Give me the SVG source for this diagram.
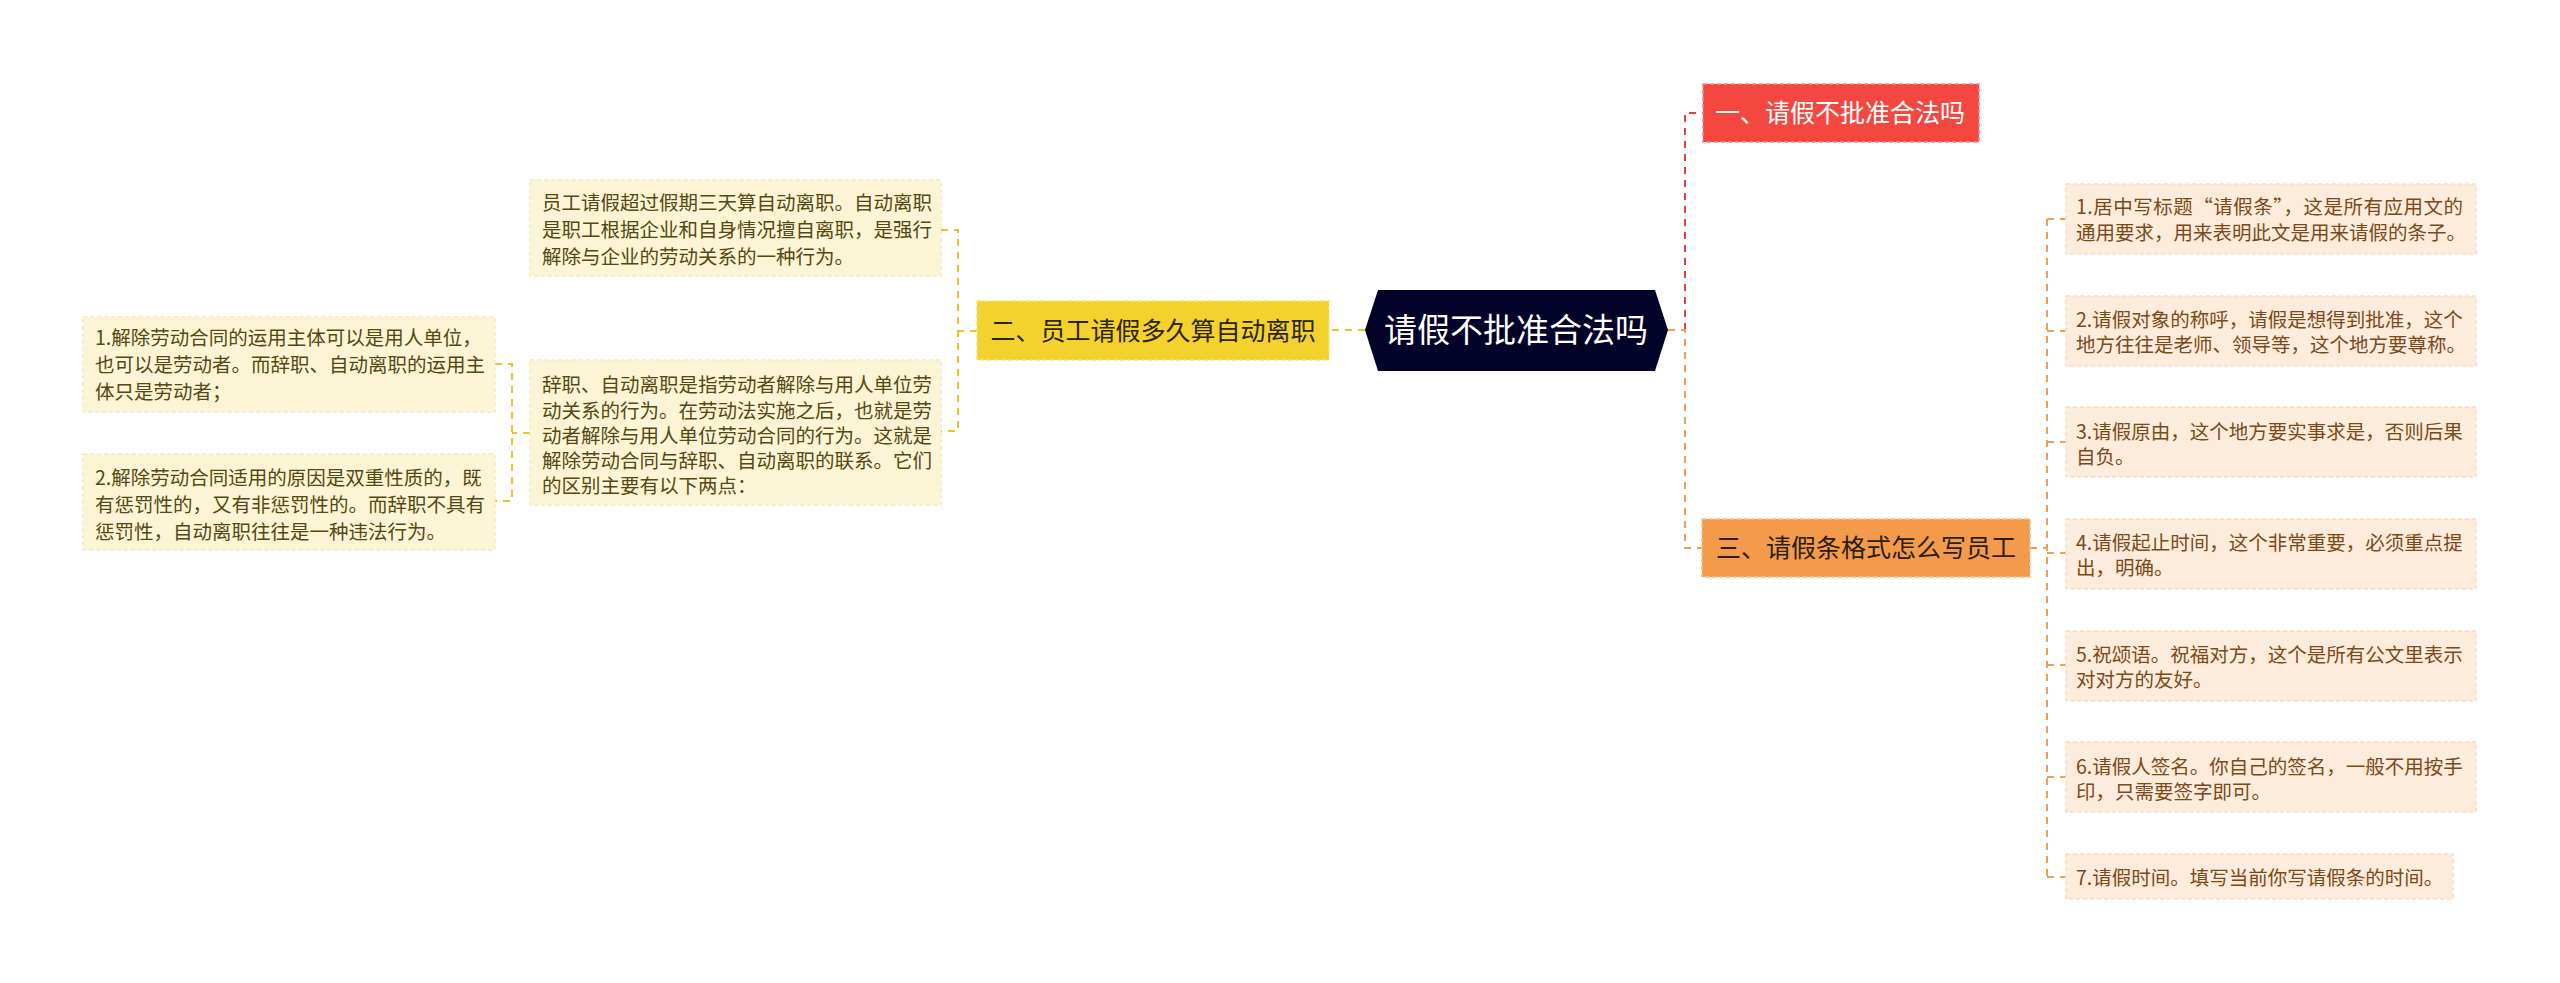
<svg xmlns="http://www.w3.org/2000/svg" width="2560" height="983" viewBox="0 0 2560 983">
<style>
text{font-family:"Noto Sans CJK SC","Noto Sans",sans-serif}
.conn{fill:none;stroke-width:2;stroke-dasharray:7 6}
.cy{stroke:#E5C52B}
.cr{stroke:#E2423B}
.co{stroke:#EE9E55}
.leafY{fill:#FBF5D5;stroke:#F3EAC0;stroke-width:1.5;stroke-dasharray:4 3}
.leafO{fill:#FDEBDC;stroke:#F8DCC6;stroke-width:1.5;stroke-dasharray:4 3}
.tY{font-size:19.5px;fill:#544813}
.tO{font-size:19.5px;fill:#7C4A18}
.title{font-size:25px;text-anchor:middle}
</style>
<rect width="2560" height="983" fill="#FFFFFF"/>
<g id="connectors">
<path class="conn cy" d="M1365,330 H1329"/>
<path class="conn cy" d="M977,331 H958 M941,230 H958 V431 H941"/>
<path class="conn cy" d="M530,433 H512 M495,364 H512 V501 H495"/>
<path class="conn cr" d="M1685,330 V113 H1703"/>
<path class="conn co" d="M1668,330 H1685 V548 H1702"/>
<path class="conn co" d="M2030,548 H2047 M2047,219 V877 M2047,219 H2066 M2047,331 H2066 M2047,442 H2066 M2047,553 H2066 M2047,665 H2066 M2047,777 H2066 M2047,877 H2066"/>
</g>
<g id="center">
<polygon points="1365,330 1378,290 1655,290 1668,330 1655,371 1378,371" fill="#03032A"/>
<text x="1516" y="342" font-size="33" fill="#FFFFFF" text-anchor="middle">请假不批准合法吗</text>
</g>
<g id="n1">
<rect x="1703" y="84" width="276" height="58" fill="#F4473F" stroke="#F9857D" stroke-width="1.5" stroke-dasharray="4 3"/>
<text class="title" x="1840" y="122" fill="#FFFFFF">一、请假不批准合法吗</text>
</g>
<g id="n2">
<rect x="977" y="301" width="352" height="59" fill="#F3D22D" stroke="#F8E27A" stroke-width="1.5" stroke-dasharray="4 3"/>
<text class="title" x="1153" y="340" fill="#2A2410">二、员工请假多久算自动离职</text>
</g>
<g id="n3">
<rect x="1702" y="519" width="328" height="58" fill="#F39B4B" stroke="#F8BE86" stroke-width="1.5" stroke-dasharray="4 3"/>
<text class="title" x="1866" y="557" fill="#2E1D0C">三、请假条格式怎么写员工</text>
</g>
<g id="leafA">
<rect class="leafY" x="530" y="180" width="411" height="96"/>
<text class="tY"><tspan x="542" y="210">员工请假超过假期三天算自动离职。自动离职</tspan><tspan x="542" y="237">是职工根据企业和自身情况擅自离职，是强行</tspan><tspan x="542" y="264">解除与企业的劳动关系的一种行为。</tspan></text>
</g>
<g id="leafB">
<rect class="leafY" x="530" y="360" width="411" height="145"/>
<text class="tY"><tspan x="542" y="392">辞职、自动离职是指劳动者解除与用人单位劳</tspan><tspan x="542" y="418">动关系的行为。在劳动法实施之后，也就是劳</tspan><tspan x="542" y="443">动者解除与用人单位劳动合同的行为。这就是</tspan><tspan x="542" y="468">解除劳动合同与辞职、自动离职的联系。它们</tspan><tspan x="542" y="493">的区别主要有以下两点：</tspan></text>
</g>
<g id="leafC1">
<rect class="leafY" x="83" y="317" width="412" height="95"/>
<text class="tY"><tspan x="95" y="345">1.解除劳动合同的运用主体可以是用人单位，</tspan><tspan x="95" y="372">也可以是劳动者。而辞职、自动离职的运用主</tspan><tspan x="95" y="399">体只是劳动者；</tspan></text>
</g>
<g id="leafC2">
<rect class="leafY" x="83" y="454" width="412" height="96"/>
<text class="tY"><tspan x="95" y="485">2.解除劳动合同适用的原因是双重性质的，既</tspan><tspan x="95" y="512">有惩罚性的，又有非惩罚性的。而辞职不具有</tspan><tspan x="95" y="539">惩罚性，自动离职往往是一种违法行为。</tspan></text>
</g>
<g id="leafR1">
<rect class="leafO" x="2066" y="184" width="410" height="70"/>
<text class="tO" x="2076" y="214" textLength="387" lengthAdjust="spacing">1.居中写标题“请假条”，这是所有应用文的</text>
<text class="tO" x="2076" y="240">通用要求，用来表明此文是用来请假的条子。</text>
</g>
<g id="leafR2">
<rect class="leafO" x="2066" y="296" width="410" height="70"/>
<text class="tO"><tspan x="2076" y="327">2.请假对象的称呼，请假是想得到批准，这个</tspan><tspan x="2076" y="352">地方往往是老师、领导等，这个地方要尊称。</tspan></text>
</g>
<g id="leafR3">
<rect class="leafO" x="2066" y="407" width="410" height="70"/>
<text class="tO"><tspan x="2076" y="439">3.请假原由，这个地方要实事求是，否则后果</tspan><tspan x="2076" y="464">自负。</tspan></text>
</g>
<g id="leafR4">
<rect class="leafO" x="2066" y="519" width="410" height="70"/>
<text class="tO"><tspan x="2076" y="550">4.请假起止时间，这个非常重要，必须重点提</tspan><tspan x="2076" y="575">出，明确。</tspan></text>
</g>
<g id="leafR5">
<rect class="leafO" x="2066" y="631" width="410" height="70"/>
<text class="tO"><tspan x="2076" y="662">5.祝颂语。祝福对方，这个是所有公文里表示</tspan><tspan x="2076" y="687">对对方的友好。</tspan></text>
</g>
<g id="leafR6">
<rect class="leafO" x="2066" y="742" width="410" height="70"/>
<text class="tO"><tspan x="2076" y="774">6.请假人签名。你自己的签名，一般不用按手</tspan><tspan x="2076" y="799">印，只需要签字即可。</tspan></text>
</g>
<g id="leafR7">
<rect class="leafO" x="2066" y="854" width="387" height="45"/>
<text class="tO"><tspan x="2076" y="885">7.请假时间。填写当前你写请假条的时间。</tspan></text>
</g>
</svg>
